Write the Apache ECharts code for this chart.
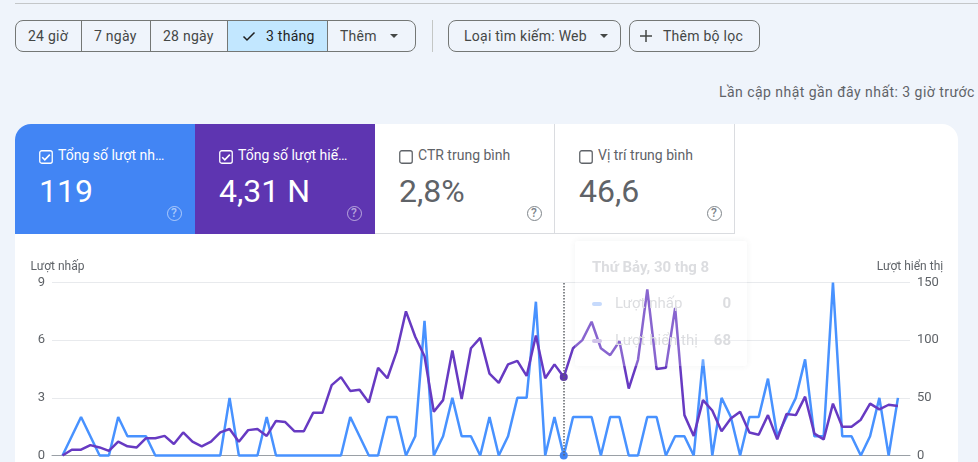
<!DOCTYPE html>
<html>
<head>
<meta charset="utf-8">
<script src="https://cdn.jsdelivr.net/npm/echarts@6/dist/echarts.min.js"></script>
<style>
html, body { margin: 0; padding: 0; width: 978px; height: 462px; overflow: hidden; background: #eff4fb; font-family: Roboto, sans-serif; }
.abs { position: absolute; white-space: nowrap; }
#topline { left: 15px; right: 0; top: 3px; height: 1px; background: #c4c7c9; }
.group { top: 20px; height: 30px; border: 1px solid #747775; border-radius: 8px; box-sizing: content-box; }
.sep { top: 21px; width: 1px; height: 30px; background: #747775; }
.btn { top: 27px; font-size: 14px; line-height: 18px; color: #444746; letter-spacing: .25px; }
#selected { left: 228px; top: 21px; width: 99px; height: 30px; background: #c2e7ff; }
.caret { top: 34px; width: 0; height: 0; border-left: 4.5px solid transparent; border-right: 4.5px solid transparent; border-top: 4.5px solid #444746; }
#updated { left: 719px; top: 83px; font-size: 14px; line-height: 18px; color: #5f6368; letter-spacing: .46px; }
#card { left: 15px; top: 124px; width: 943px; height: 338px; background: #fff; border-radius: 16px 16px 0 0; overflow: hidden; }
.tile { position: absolute; top: 0; width: 180px; height: 110px; box-sizing: border-box; }
.tile .lbl { position: absolute; left: 43px; top: 22px; font-size: 14px; line-height: 18px; white-space: nowrap; }
.tile .val { position: absolute; left: 24px; top: 48px; font-size: 32px; line-height: 38px; white-space: nowrap; }
.tile svg.cb { position: absolute; left: 24px; top: 26px; }
.tile .help { position: absolute; left: 151.5px; top: 81.5px; width: 15px; height: 15px; box-sizing: border-box; border: 1.5px solid; border-radius: 50%; font-size: 12px; font-weight: 500; line-height: 12px; text-align: center; }
.on { color: #fff; }
.on .help { color: rgba(255,255,255,.55); border-color: rgba(255,255,255,.55); }
.off { color: #5f6368; border-bottom: 1px solid #dadce0; border-right: 1px solid #dadce0; }
.off .help { color: #80868b; border-color: #80868b; }
#chart { position: absolute; left: 0; top: 0; width: 978px; height: 462px; }
</style>
</head>
<body>
<div class="abs" id="topline"></div>

<div class="abs" id="selected"></div>
<div class="abs group" style="left:15px;width:399px"></div>
<div class="abs sep" style="left:81px"></div>
<div class="abs sep" style="left:150px"></div>
<div class="abs sep" style="left:227px"></div>
<div class="abs sep" style="left:327px"></div>
<div class="abs btn" style="left:28px">24 giờ</div>
<div class="abs btn" style="left:94px">7 ngày</div>
<div class="abs btn" style="left:163px">28 ngày</div>
<svg class="abs" style="left:242px;top:29px" width="14" height="14" viewBox="0 0 14 14"><path d="M1.5 7.5 L5 11 L12.5 3.5" fill="none" stroke="#1f1f1f" stroke-width="1.5"/></svg>
<div class="abs btn" style="left:266px;color:#1f1f1f">3 tháng</div>
<div class="abs btn" style="left:340px">Thêm</div>
<div class="abs caret" style="left:389.5px"></div>
<div class="abs" style="left:432px;top:20px;width:1px;height:32px;background:#c4c7c5"></div>
<div class="abs group" style="left:448px;width:171px"></div>
<div class="abs btn" style="left:464px">Loại tìm kiếm: Web</div>
<div class="abs caret" style="left:599.5px"></div>
<div class="abs group" style="left:629px;width:129px"></div>
<svg class="abs" style="left:639px;top:29px" width="14" height="14" viewBox="0 0 14 14"><path d="M7 1 V13 M1 7 H13" fill="none" stroke="#444746" stroke-width="1.5"/></svg>
<div class="abs btn" style="left:663px">Thêm bộ lọc</div>
<div class="abs" id="updated">Lần cập nhật gần đây nhất: 3 giờ trước</div>

<div class="abs" id="card">
  <div class="tile on" style="left:0;background:#4285f4">
    <svg class="cb" width="14" height="14" viewBox="0 0 14 14"><rect x=".75" y=".75" width="12.5" height="12.5" rx="2" fill="none" stroke="#fff" stroke-width="1.3"/><path d="M3.2 7.2 L5.8 9.8 L10.8 4.6" fill="none" stroke="#fff" stroke-width="1.6"/></svg>
    <div class="lbl">Tổng số lượt nh…</div><div class="val">119</div><div class="help">?</div>
  </div>
  <div class="tile on" style="left:180px;background:#5e35b1">
    <svg class="cb" width="14" height="14" viewBox="0 0 14 14"><rect x=".75" y=".75" width="12.5" height="12.5" rx="2" fill="none" stroke="#fff" stroke-width="1.3"/><path d="M3.2 7.2 L5.8 9.8 L10.8 4.6" fill="none" stroke="#fff" stroke-width="1.6"/></svg>
    <div class="lbl">Tổng số lượt hiế…</div><div class="val">4,31 N</div><div class="help">?</div>
  </div>
  <div class="tile off" style="left:360px">
    <svg class="cb" width="14" height="14" viewBox="0 0 14 14"><rect x=".75" y=".75" width="12.5" height="12.5" rx="2" fill="none" stroke="#5f6368" stroke-width="1.3"/></svg>
    <div class="lbl">CTR trung bình</div><div class="val">2,8%</div><div class="help">?</div>
  </div>
  <div class="tile off" style="left:540px">
    <svg class="cb" width="14" height="14" viewBox="0 0 14 14"><rect x=".75" y=".75" width="12.5" height="12.5" rx="2" fill="none" stroke="#5f6368" stroke-width="1.3"/></svg>
    <div class="lbl">Vị trí trung bình</div><div class="val">46,6</div><div class="help">?</div>
  </div>
</div>

<div id="chart"></div>

<script>
var clicks = [0, 1, 2, 1, 0, 0, 2, 1, 1, 1, 0, 0, 0, 0, 0, 0, 0, 0, 3, 0,
    0, 0, 2, 0, 0, 0, 0, 0, 0, 0, 0, 2, 1, 0, 0, 2, 2, 0, 1, 7,
    0, 1, 3, 1, 1, 0, 2, 0, 1, 3, 3, 8, 0, 2, 0, 2, 2, 2, 0, 2,
    2, 0, 0, 2, 2, 0, 1, 1, 0, 5, 0, 3, 2, 0, 2, 2, 4, 1, 2, 3,
    5, 1, 1, 9, 1, 1, 0, 1, 3, 0, 3];
var impressions = [0, 5, 5, 9, 7, 4, 12, 8, 7, 15, 15, 17, 10, 20, 12, 8, 12, 20, 23, 12,
    22, 23, 17, 30, 29, 21, 21, 37, 37, 61, 68, 56, 57, 46, 76, 67, 90, 125, 103, 86,
    38, 48, 91, 49, 93, 102, 71, 63, 79, 82, 69, 104, 67, 79, 68, 93, 100, 116, 93, 87,
    99, 58, 83, 144, 75, 76, 128, 35, 17, 48, 39, 21, 32, 38, 20, 18, 35, 14, 36, 35,
    51, 19, 14, 45, 25, 25, 31, 45, 40, 44, 43];
var clickTicks = [0, 3, 6, 9];
var impressionTicks = [0, 50, 100, 150];
var hoverIndex = 54;
var hoverDate = 'Thứ Bảy, 30 thg 8';

function pairs(values) {
    return values.map(function (v, i) { return [i, v]; });
}

var chart = echarts.init(document.getElementById('chart'));

var labelStyle = { color: '#5f6368', fontFamily: 'Roboto', fontSize: 13 };

option = {
    animation: false,
    textStyle: { fontFamily: 'Roboto' },
    grid: { left: 52, right: 68, top: 282.5, bottom: 6.5 },
    tooltip: {
        trigger: 'axis',
        alwaysShowContent: true,
        transitionDuration: 0,
        backgroundColor: 'rgba(255,255,255,0.22)',
        borderWidth: 0,
        padding: 0,
        extraCssText: 'box-shadow:0 0 6px rgba(60,64,67,.07);border-radius:3px;',
        axisPointer: {
            type: 'line',
            label: { show: false },
            lineStyle: { type: 'dotted', color: '#5f6368', width: 1.5 }
        },
        position: function () { return [575, 241]; },
        formatter: function () {
            var row = 'position:absolute;left:17px;width:139px;font:15px/18px Roboto;color:#dcdde0;';
            var mark = 'position:absolute;left:0;top:8px;width:10px;height:4px;border-radius:2px;';
            return '<div style="position:relative;width:172px;height:125px;">' +
                '<div style="position:absolute;left:17px;top:17px;font:700 15px/18px Roboto;color:#dcdde0;">' + hoverDate + '</div>' +
                '<div style="' + row + 'top:53px;"><span style="' + mark + 'background:#c6dafc"></span>' +
                '<span style="position:absolute;left:23px;">Lượt nhấp</span><span style="position:absolute;right:0;font-weight:700;">' + clicks[hoverIndex] + '</span></div>' +
                '<div style="' + row + 'top:90px;"><span style="' + mark + 'background:#cfc2e8"></span>' +
                '<span style="position:absolute;left:23px;">Lượt hiển thị</span><span style="position:absolute;right:0;font-weight:700;">' + impressions[hoverIndex] + '</span></div>' +
                '</div>';
        }
    },
    xAxis: {
        type: 'value',
        min: -1.13,
        max: 91.3,
        axisLine: { onZero: false, lineStyle: { color: '#9aa0a6', width: 1 } },
        axisTick: { show: false },
        axisLabel: { show: false },
        splitLine: { show: false }
    },
    yAxis: [{
            type: 'value',
            name: 'Lượt nhấp',
            nameGap: 10,
            nameTextStyle: { color: '#5f6368', fontFamily: 'Roboto', fontSize: 12, padding: [0, 10, 0, 0] },
            min: clickTicks[0],
            max: clickTicks[clickTicks.length - 1],
            interval: 3,
            axisLine: { show: false },
            axisTick: { show: false },
            axisLabel: Object.assign({ margin: 7 }, labelStyle),
            splitLine: { lineStyle: { color: '#e8eaed', width: 1 } }
        },
        {
            type: 'value',
            name: 'Lượt hiển thị',
            nameGap: 10,
            nameTextStyle: { color: '#5f6368', fontFamily: 'Roboto', fontSize: 12 },
            min: impressionTicks[0],
            max: impressionTicks[impressionTicks.length - 1],
            interval: 50,
            axisLine: { show: false },
            axisTick: { show: false },
            axisLabel: Object.assign({ margin: 7 }, labelStyle),
            splitLine: { show: false }
        }
    ],
    series: [{
            name: 'Lượt nhấp',
            type: 'line',
            data: pairs(clicks),
            yAxisIndex: 0,
            clip: false,
            showSymbol: false,
            symbol: 'circle',
            symbolSize: 8,
            itemStyle: { color: '#4285f4' },
            lineStyle: { color: '#4285f4', width: 2.5 },
            emphasis: { scale: false, lineStyle: { width: 2.5 } }
        },
        {
            name: 'Lượt hiển thị',
            type: 'line',
            data: pairs(impressions),
            yAxisIndex: 1,
            clip: false,
            showSymbol: false,
            symbol: 'circle',
            symbolSize: 8,
            itemStyle: { color: '#5e35b1' },
            lineStyle: { color: '#5e35b1', width: 2.5 },
            emphasis: { scale: false, lineStyle: { width: 2.5 } }
        }
    ]
};
chart.setOption(option);
chart.dispatchAction({ type: 'showTip', seriesIndex: 0, dataIndex: hoverIndex });
</script>
</body>
</html>
